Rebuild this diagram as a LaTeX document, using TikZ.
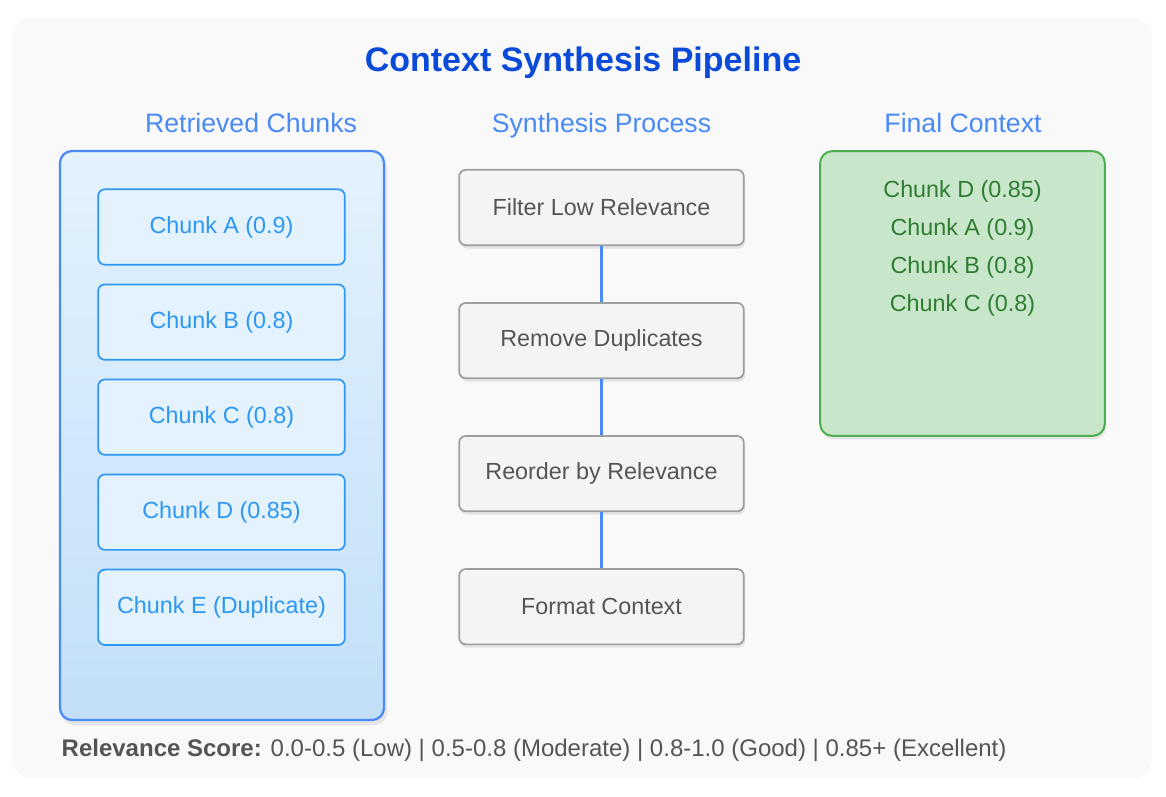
\documentclass[tikz,border=0pt]{standalone}
\usepackage{fontspec}
\setmainfont{Liberation Sans}
\usetikzlibrary{positioning,shadows}

\definecolor{paneBg}{HTML}{F9F9F9}
\definecolor{titleBlue}{HTML}{0A4AD8}
\definecolor{headBlue}{HTML}{4A8AF4}
\definecolor{chunkLine}{HTML}{2E97F2}
\definecolor{chunkFill}{HTML}{E3F2FD}
\definecolor{chunkDeep}{HTML}{C2DFF8}
\definecolor{stageFill}{HTML}{F4F4F4}
\definecolor{stageLine}{HTML}{9E9E9E}
\definecolor{finalFill}{HTML}{C8E6C9}
\definecolor{finalLine}{HTML}{4CAF50}
\definecolor{finalText}{HTML}{2E7D32}
\definecolor{noteText}{HTML}{555555}

\tikzset{
  heading/.style={text=headBlue, font=\fontsize{20}{24}\selectfont, text height=14.5pt, text depth=4pt},
  chunk/.style={draw=chunkLine, line width=1.3pt, fill=chunkFill, rounded corners=5pt,
    minimum width=185pt, minimum height=56.5pt, text=chunkLine,
    font=\fontsize{17.5}{21}\selectfont},
  stage/.style={draw=stageLine, line width=1.3pt, fill=stageFill, rounded corners=5pt,
    minimum width=213.5pt, minimum height=56.5pt, text=noteText,
    font=\fontsize{17.5}{21}\selectfont,
    drop shadow={shadow xshift=1pt, shadow yshift=-2.5pt, opacity=0.18}},
  link/.style={draw=headBlue, line width=2pt}
}

\begin{document}
\begin{tikzpicture}[x=0.75pt, y=-0.75pt]
  \useasboundingbox (0,0) rectangle (1166,796);
  % panel and title
  \fill[paneBg, rounded corners=14pt] (12,18) rectangle (1152,778);
  \node[text=titleBlue, font=\bfseries\fontsize{25.5}{30}\selectfont] (title) at (583,63) {Context Synthesis Pipeline};

  % column headings
  \node[heading] (hchunks) at (251,125) {Retrieved Chunks};
  \node[heading] (hsynth) at (601.5,125) {Synthesis Process};
  \node[heading] (hfinal) at (963,125) {Final Context};

  % retrieved chunks
  \fill[black, opacity=0.08, rounded corners=9pt] (62,155) rectangle (387,725);
  \draw[headBlue, line width=1.7pt, rounded corners=9pt, top color=chunkFill, bottom color=chunkDeep]
    (60,151) rectangle (384,720);
  \node[chunk] (ca) at (221.5,227) {Chunk A (0.9)};
  \node[chunk, below=13.5pt of ca] (cb) {Chunk B (0.8)};
  \node[chunk, below=13.5pt of cb] (cc) {Chunk C (0.8)};
  \node[chunk, below=13.5pt of cc] (cd) {Chunk D (0.85)};
  \node[chunk, below=13.5pt of cd] (ce) {Chunk E (Duplicate)};

  % synthesis steps
  \node[stage] (filter) at (601.5,207.5) {Filter Low Relevance};
  \node[stage, below=42pt of filter] (dedup) {Remove Duplicates};
  \node[stage, below=42pt of dedup] (reorder) {Reorder by Relevance};
  \node[stage, below=42pt of reorder] (format) {Format Context};
  \draw[link] (filter) -- (dedup);
  \draw[link] (dedup) -- (reorder);
  \draw[link] (reorder) -- (format);

  % final context
  \node[draw=finalLine, line width=1.5pt, fill=finalFill, rounded corners=9pt,
    minimum width=213.5pt, minimum height=213.5pt,
    drop shadow={shadow xshift=1pt, shadow yshift=-2.5pt, opacity=0.15}] (final) at (962.5,293.5) {};
  \node[below=19.5pt of final.north, anchor=north, align=center, text=finalText,
    font=\fontsize{17.5}{28.5}\selectfont] (finallist)
    {Chunk D (0.85)\\Chunk A (0.9)\\Chunk B (0.8)\\Chunk C (0.8)};

  % legend
  \node[anchor=west, text=noteText, font=\fontsize{18}{21}\selectfont] (legend) at (57,750)
    {\textbf{Relevance Score:} 0.0-0.5 (Low) | 0.5-0.8 (Moderate) | 0.8-1.0 (Good) | 0.85+ (Excellent)};
\end{tikzpicture}
\end{document}
